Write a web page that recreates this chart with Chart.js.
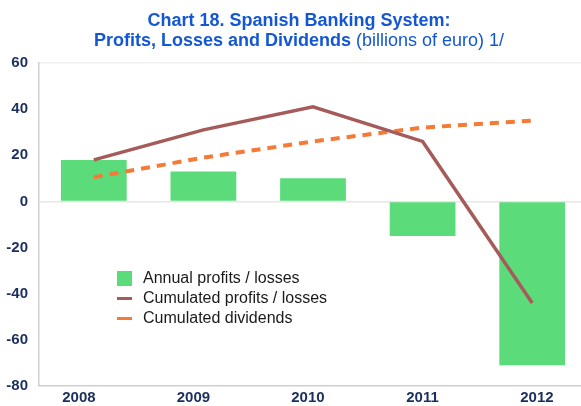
<!DOCTYPE html>
<html>
<head>
<meta charset="utf-8">
<script src="https://cdn.jsdelivr.net/npm/chart.js@4"></script>
<style>
  html, body { margin: 0; padding: 0; background: #fff; }
  #wrap { position: relative; width: 581px; height: 406px; overflow: hidden; }
  .title { position: absolute; left: 0; width: 598px; text-align: center; line-height: 20px; font-family: "Liberation Sans", Arial, sans-serif; font-size: 18px; color: #1457d4; white-space: nowrap; }
  .title b { font-weight: bold; }
  #legend { position: absolute; left: 117px; top: 268px; font-family: "Liberation Sans", Arial, sans-serif; font-size: 16px; color: #1a1a1a; }
  #legend div { height: 20px; line-height: 20px; display: flex; align-items: center; }
  #legend span.box { display: inline-block; width: 15px; margin-right: 11px; }
</style>
</head>
<body>
<div id="wrap">
  <canvas id="chart" width="587" height="406"></canvas>
  <div class="title" style="top:10px;"><b>Chart 18. Spanish Banking System:</b></div>
  <div class="title" style="top:30px;"><b>Profits, Losses and Dividends</b> (billions of euro) 1/</div>
  <div id="legend"></div>
</div>
<script>
const years = ["2008", "2009", "2010", "2011", "2012"];
const annualProfits = [18, 13, 10, -15, -71];
const cumulatedProfits = [18, 31, 41, 26, -44];
const cumulatedDividends = [10.5, 19, 26, 32, 35];
const yTicks = [60, 40, 20, 0, -20, -40, -60, -80];

const ctx = document.getElementById("chart").getContext("2d");
const chart = new Chart(ctx, {
  type: "bar",
  data: {
    labels: years,
    datasets: [
      {
        type: "line",
        label: "Cumulated profits / losses",
        data: cumulatedProfits,
        borderColor: "#a65b5b",
        backgroundColor: "#a65b5b",
        borderWidth: 3.5,
        pointRadius: 0,
        tension: 0,
        order: 1,
      },
      {
        type: "line",
        label: "Cumulated dividends",
        data: cumulatedDividends,
        borderColor: "#f47a36",
        backgroundColor: "#f47a36",
        borderWidth: 4,
        borderDash: [9, 7],
        pointRadius: 0,
        tension: 0,
        order: 2,
      },
      {
        label: "Annual profits / losses",
        data: annualProfits,
        backgroundColor: "#5cdb7b",
        categoryPercentage: 1,
        barPercentage: 0.6,
        order: 3,
      },
    ],
  },
  options: {
    responsive: false,
    animation: false,
    layout: { padding: { top: 63, left: 0, right: 0, bottom: 0 } },
    plugins: {
      legend: { display: false },
      title: { display: false },
      tooltip: { enabled: false },
    },
    scales: {
      x: {
        display: false,
      },
      // year labels sit on their own, slightly wider spaced axis (as in the original)
      xl: {
        type: "linear",
        position: "bottom",
        offset: false,
        min: -0.349,
        max: 4.437,
        afterBuildTicks: (scale) => { scale.ticks = years.map((y, i) => ({ value: i })); },
        grid: { display: false, drawTicks: false, offset: false },
        border: { color: "#cfcfcf", width: 1.5 },
        ticks: {
          padding: 3,
          color: "#1b2f5e",
          font: { family: "Liberation Sans", size: 15, weight: "bold" },
          callback: (v) => years[v],
        },
        afterFit: (scale) => { scale.height = 16; },
      },
      y: {
        min: -80,
        max: 60,
        afterBuildTicks: (scale) => { scale.ticks = yTicks.map((v) => ({ value: v })); },
        grid: {
          drawTicks: false,
          color: (c) => (c.tick && c.tick.value === 0 ? "#e6e6e6" : c.tick && c.tick.value === 60 ? "#f0f0f0" : "rgba(0,0,0,0)"),
          lineWidth: 1.5,
        },
        border: { color: "#cfcfcf", width: 1.5 },
        ticks: {
          padding: 11,
          color: "#1b2f5e",
          font: { family: "Liberation Sans", size: 15, weight: "bold" },
        },
        afterFit: (scale) => { scale.width = 39; },
      },
    },
  },
});

// legend drawn as html, order as in the reference
const legendEl = document.getElementById("legend");
[2, 0, 1].forEach((i) => {
  const ds = chart.data.datasets[i];
  const row = document.createElement("div");
  const box = document.createElement("span");
  box.className = "box";
  if (ds.type === "line") {
    box.style.height = "3px";
    box.style.background = ds.borderColor;
  } else {
    box.style.height = "15px";
    box.style.background = ds.backgroundColor;
  }
  row.appendChild(box);
  row.appendChild(document.createTextNode(ds.label));
  legendEl.appendChild(row);
});
</script>
</body>
</html>
